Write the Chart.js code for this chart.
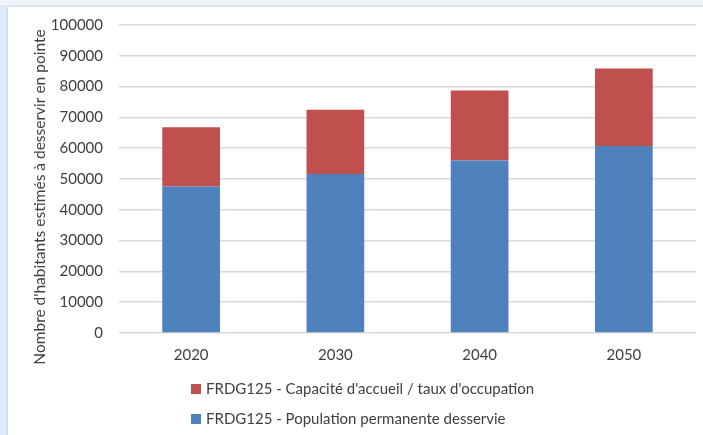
<!DOCTYPE html>
<html lang="fr">
<head>
<meta charset="utf-8">
<title>FRDG125 - habitants à desservir en pointe</title>
<script src="https://cdn.jsdelivr.net/npm/chart.js@4/dist/chart.umd.min.js"></script>
<style>
  html, body {
    margin: 0;
    padding: 0;
    width: 703px;
    height: 435px;
    overflow: hidden;
    background: linear-gradient(to bottom, #eef4fa 0px, #eef4fa 5px, #dbeaf7 5px);
  }
  #frame {
    position: absolute;
    left: 7px;
    top: 5px;
    right: 0;
    bottom: 0;
    background: #ffffff;
    border-left: 1px solid #d4d9de;
    border-top: 2px solid #dde2e7;
  }
  #wrap {
    position: absolute;
    left: 0;
    top: 0;
    width: 703px;
    height: 435px;
  }
</style>
</head>
<body>
<div id="frame"></div>
<div id="wrap"><canvas id="chart" width="703" height="435"></canvas></div>
<script>
"use strict";

// Categories (years)
const years = ["2020", "2030", "2040", "2050"];

// Permanent population served
const popPermanente = [47600, 51600, 56000, 60700];

// Extra capacity (accommodation / occupancy rate)
const capaciteAccueil = [19200, 20900, 22700, 25200];

// Series labels
const labelPopulation = "FRDG125 - Population permanente desservie";
const labelCapacite = "FRDG125 - Capacité d'accueil / taux d'occupation";

// Y axis
const yAxisTitle = "Nombre d'habitants estimés à desservir en pointe";
const yMax = 100000;
const yStep = 10000;

const FONT_FAMILY = "Lato, 'Open Sans', sans-serif";
const FONT_SIZE = 15;
const TEXT_COLOR = "#404040";
const COLOR_BLUE = "#4f81bd";
const COLOR_RED = "#c0504d";

/**
 * Draws the rotated y-axis title and the stacked (vertical) legend.
 */
const excelDecor = {
  id: "excelDecor",
  afterDraw(chart) {
    const ctx = chart.ctx;
    const area = chart.chartArea;
    ctx.save();
    ctx.fillStyle = TEXT_COLOR;

    // Y axis title
    ctx.save();
    ctx.font = `15.5px ${FONT_FAMILY}`;
    ctx.translate(area.left - 79, (area.top + area.bottom) / 2 + 18);
    ctx.rotate(-Math.PI / 2);
    ctx.textAlign = "center";
    ctx.textBaseline = "middle";
    ctx.fillText(yAxisTitle, 0, 0);
    ctx.restore();

    // Legend: top series first
    ctx.font = `${FONT_SIZE}px ${FONT_FAMILY}`;
    const sets = chart.data.datasets.slice().reverse();
    const boxX = 191;
    let rowY = 389;
    sets.forEach((ds) => {
      ctx.fillStyle = ds.backgroundColor;
      ctx.fillRect(boxX, rowY - 5, 10, 10);
      ctx.fillStyle = TEXT_COLOR;
      ctx.textAlign = "left";
      ctx.textBaseline = "middle";
      ctx.fillText(ds.label, boxX + 15, rowY);
      rowY += 30;
    });
    ctx.restore();
  },
};

function initChart() {
  const canvasEl = document.getElementById("chart");
  const chartCtx = canvasEl.getContext("2d");

  new Chart(chartCtx, {
    type: "bar",
    data: {
      labels: years,
      datasets: [
        {
          label: labelPopulation,
          data: popPermanente,
          backgroundColor: COLOR_BLUE,
          borderWidth: 0,
        },
        {
          label: labelCapacite,
          data: capaciteAccueil,
          backgroundColor: COLOR_RED,
          borderWidth: 0,
        },
      ],
    },
    options: {
      responsive: false,
      animation: false,
      devicePixelRatio: 1,
      datasets: {
        bar: { categoryPercentage: 1, barPercentage: 0.4 },
      },
      layout: {
        padding: { left: 8, right: 7, top: 24, bottom: 0 },
      },
      plugins: {
        legend: { display: false },
        tooltip: { enabled: false },
      },
      scales: {
        x: {
          stacked: true,
          grid: { display: false, drawTicks: false },
          border: { display: false },
          ticks: {
            color: TEXT_COLOR,
            padding: 13,
            font: { family: FONT_FAMILY, size: FONT_SIZE },
          },
          afterFit(scale) {
            scale.height = 102;
          },
        },
        y: {
          stacked: true,
          min: 0,
          max: yMax,
          grid: { color: "#d9d9d9", lineWidth: 1.5, drawTicks: false },
          border: { display: false },
          ticks: {
            stepSize: yStep,
            color: TEXT_COLOR,
            padding: 16,
            font: { family: FONT_FAMILY, size: FONT_SIZE },
            callback: (value) => String(value),
          },
          afterFit(scale) {
            scale.width = 111;
          },
        },
      },
    },
    plugins: [excelDecor],
  });
}

initChart();
</script>
</body>
</html>
